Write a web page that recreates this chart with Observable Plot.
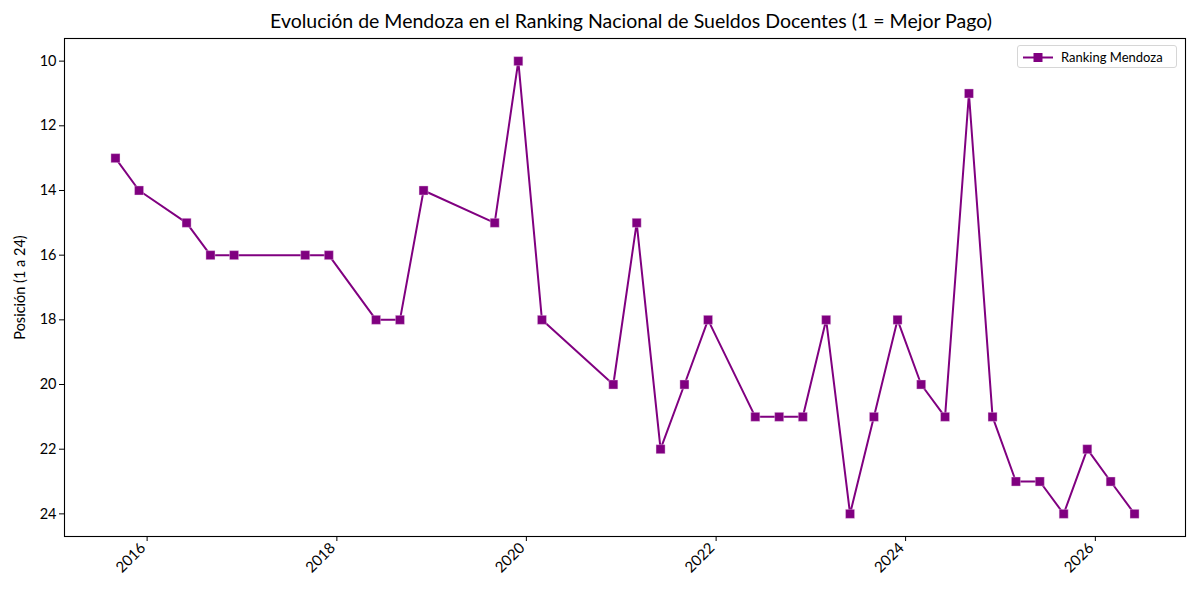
<!DOCTYPE html>
<html><head><meta charset="utf-8">
<script src="https://cdn.jsdelivr.net/npm/d3@7"></script>
<script src="https://cdn.jsdelivr.net/npm/@observablehq/plot@0.6"></script>
<style>
body{margin:0;background:#fff;font-family:Lato,"DejaVu Sans",sans-serif}
#wrap{position:relative;width:1200px;height:600px;overflow:hidden}
#title{position:absolute;left:0;width:1262px;top:9px;text-align:center;font-size:19.5px;color:#000}
#legend{position:absolute;left:1017px;top:45px;width:160px;height:23px;border:1px solid #d6d6d6;border-radius:3px;background:rgba(255,255,255,0.85);box-sizing:border-box}
#legend svg{position:absolute;left:3px;top:2px}
#legend span{position:absolute;left:43px;top:3px;font-size:13px;color:#000;white-space:nowrap}
</style></head>
<body>
<div id="wrap">
<div id="chart"></div>
<div id="title">Evolución de Mendoza en el Ranking Nacional de Sueldos Docentes (1 = Mejor Pago)</div>
<div id="legend"><svg width="34" height="20"><line x1="2" x2="32" y1="9.5" y2="9.5" stroke="#800080" stroke-width="2"/><rect x="12.5" y="5" width="9" height="9" fill="#800080"/></svg><span>Ranking Mendoza</span></div>
</div>
<script>
const dates = ["2015-09-01","2015-12-01","2016-06-01","2016-09-01","2016-12-01","2017-09-01","2017-12-01","2018-06-01","2018-09-01","2018-12-01","2019-09-01","2019-12-01","2020-03-01","2020-12-01","2021-03-01","2021-06-01","2021-09-01","2021-12-01","2022-06-01","2022-09-01","2022-12-01","2023-03-01","2023-06-01","2023-09-01","2023-12-01","2024-03-01","2024-06-01","2024-09-01","2024-12-01","2025-03-01","2025-06-01","2025-09-01","2025-12-01","2026-03-01","2026-06-01"];
const ranks = [13,14,15,16,16,16,16,18,18,14,15,10,18,20,15,22,20,18,21,21,21,18,24,21,18,20,21,11,21,23,23,24,22,23,24];
const yTicks = [10,12,14,16,18,20,22,24];
const xTickYears = [2016,2018,2020,2022,2024,2026];

const data = dates.map((d,i)=>({date:new Date(d+"T00:00:00Z"), rank:ranks[i]}));
const t0 = data[0].date.getTime(), t1 = data[data.length-1].date.getTime();
const pad = (t1-t0)*0.05;
const yMin = d3.min(ranks), yMax = d3.max(ranks), yPad = (yMax-yMin)*0.05;
const xTicks = xTickYears.map(y=>new Date(Date.UTC(y,0,1)));

const plot = Plot.plot({
  width:1200, height:600,
  marginLeft:64, marginRight:15, marginTop:38, marginBottom:64,
  style:{fontFamily:"Lato, 'DejaVu Sans', sans-serif", fontSize:"14px", color:"#000", background:"#fff"},
  x:{type:"utc", domain:[new Date(t0-pad), new Date(t1+pad)]},
  y:{domain:[yMax+yPad, yMin-yPad]},
  marks:[
    Plot.axisY({ticks:yTicks, tickSize:5, tickPadding:3, fontSize:14.5, label:"Posición (1 a 24)", labelAnchor:"center", labelArrow:"none", labelOffset:50}),
    Plot.axisX({ticks:xTicks, tickFormat:()=>"", tickSize:5, label:null}),
    Plot.axisX({ticks:xTicks, tickFormat:d3.utcFormat("%Y"), tickSize:0, tickRotate:-45, fontSize:15, label:null, tickPadding:9, dx:-4}),
    Plot.frame({stroke:"#000", strokeWidth:1.1}),
    Plot.line(data,{x:"date", y:"rank", stroke:"#800080", strokeWidth:2}),
    Plot.dot(data,{x:"date", y:"rank", symbol:"square", r:5.1, fill:"#800080", stroke:"#f0d8f0", strokeWidth:0.4})
  ]
});
document.getElementById("chart").appendChild(plot);
</script>
</body></html>
